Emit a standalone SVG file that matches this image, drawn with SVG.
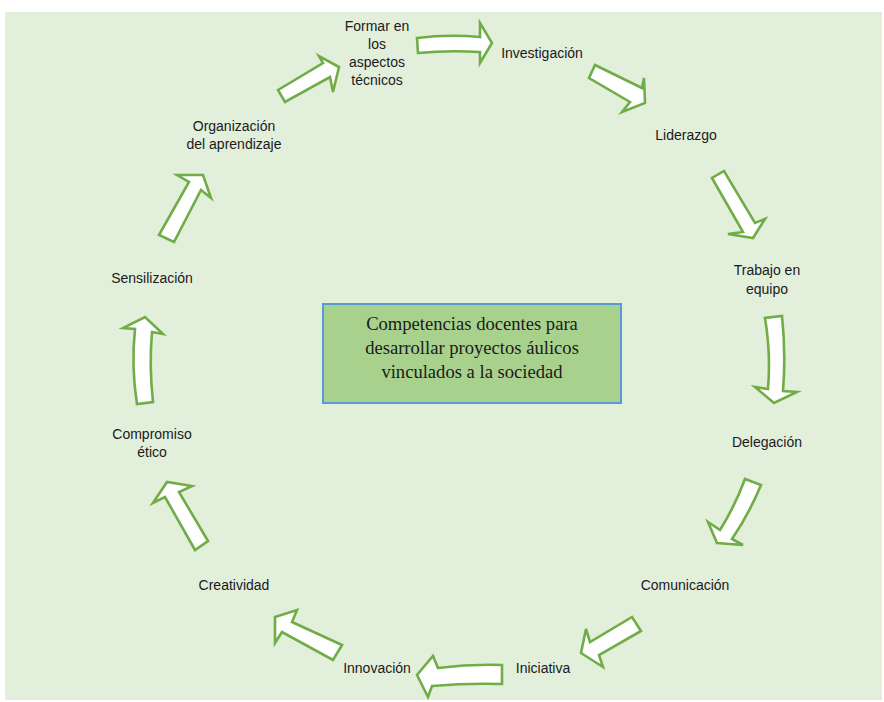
<svg xmlns="http://www.w3.org/2000/svg" width="884" height="702" viewBox="0 0 884 702">
<style>
.bg{fill:#E2EFDA}
.arr{fill:#FFFFFF;stroke:#70AD47;stroke-width:2.6;stroke-linejoin:miter}
.lbl{font-family:"Liberation Sans",Arial,sans-serif;font-size:14px;fill:#1a1a1a;text-anchor:middle}
.ctr{font-family:"Liberation Serif","Times New Roman",serif;font-size:18.6px;fill:#1a1a1a;text-anchor:middle}
.box{fill:#A9D18E;stroke:#5B9BD5;stroke-width:2}
</style>
<rect class="bg" x="5" y="12" width="877" height="688"/>
<g id="connectors">
<path class="arr" d="M278,90 L323,63 L319,56 L339,67 L333,92 L330,77 L285,102 Z"/>
<path class="arr" d="M417,38 Q448,34 480,37 L480,23 L492,43 L480,63 L480,52 Q448,50 418,53 Z"/>
<path class="arr" d="M595,65 L642,88 L644,78 L645,103 L622,112 L630,102 L589,78 Z"/>
<path class="arr" d="M712,178 L743,232 L728,234 L753,238 L765,219 L755,223 L724,171 Z"/>
<path class="arr" d="M765,318 Q771,354 768,389 L755,387 L774,403 L797,392 L783,391 Q786,354 782,316 Z"/>
<path class="arr" d="M745,479 Q735,506 720,530 L708,522 L717,543 L743,545 L732,539 Q749,514 761,485 Z"/>
<path class="arr" d="M632,617 L590,642 L586,629 L581,653 L603,667 L599,655 L641,631 Z"/>
<path class="arr" d="M502,665 Q470,664 438,668 L433,656 L417,675 L428,697 L432,686 Q468,683 502,684 Z"/>
<path class="arr" d="M342,645 L292,622 L297,610 L275,617 L275,643 L282,632 L333,660 Z"/>
<path class="arr" d="M208,541 L179,492 L192,486 L167,482 L153,503 L165,497 L195,550 Z"/>
<path class="arr" d="M137,404 Q131,366 135,329 L123,328 L145,317 L163,334 L152,332 Q149,366 153,402 Z"/>
<path class="arr" d="M159,235 L189,182 L177,175 L203,175 L211,198 L201,190 L174,242 Z"/>
</g>
<g id="center">
<rect class="box" x="323" y="304" width="298" height="99"/>
<text class="ctr" x="472" y="330">Competencias docentes para</text>
<text class="ctr" x="472" y="354">desarrollar proyectos áulicos</text>
<text class="ctr" x="472" y="378">vinculados a la sociedad</text>
</g>
<g id="n-formar"><text class="lbl" x="377" y="31">Formar en</text><text class="lbl" x="377" y="49">los</text><text class="lbl" x="377" y="67">aspectos</text><text class="lbl" x="377" y="85">técnicos</text></g>
<g id="n-investigacion"><text class="lbl" x="542" y="58">Investigación</text></g>
<g id="n-liderazgo"><text class="lbl" x="686" y="140">Liderazgo</text></g>
<g id="n-trabajo"><text class="lbl" x="767" y="275">Trabajo en</text><text class="lbl" x="767" y="294">equipo</text></g>
<g id="n-delegacion"><text class="lbl" x="767" y="447">Delegación</text></g>
<g id="n-comunicacion"><text class="lbl" x="685" y="590">Comunicación</text></g>
<g id="n-iniciativa"><text class="lbl" x="543" y="673">Iniciativa</text></g>
<g id="n-innovacion"><text class="lbl" x="377" y="673">Innovación</text></g>
<g id="n-creatividad"><text class="lbl" x="234" y="590">Creatividad</text></g>
<g id="n-compromiso"><text class="lbl" x="152" y="439">Compromiso</text><text class="lbl" x="152" y="457">ético</text></g>
<g id="n-sensilizacion"><text class="lbl" x="152" y="283">Sensilización</text></g>
<g id="n-organizacion"><text class="lbl" x="234" y="131">Organización</text><text class="lbl" x="234" y="149">del aprendizaje</text></g>
</svg>
